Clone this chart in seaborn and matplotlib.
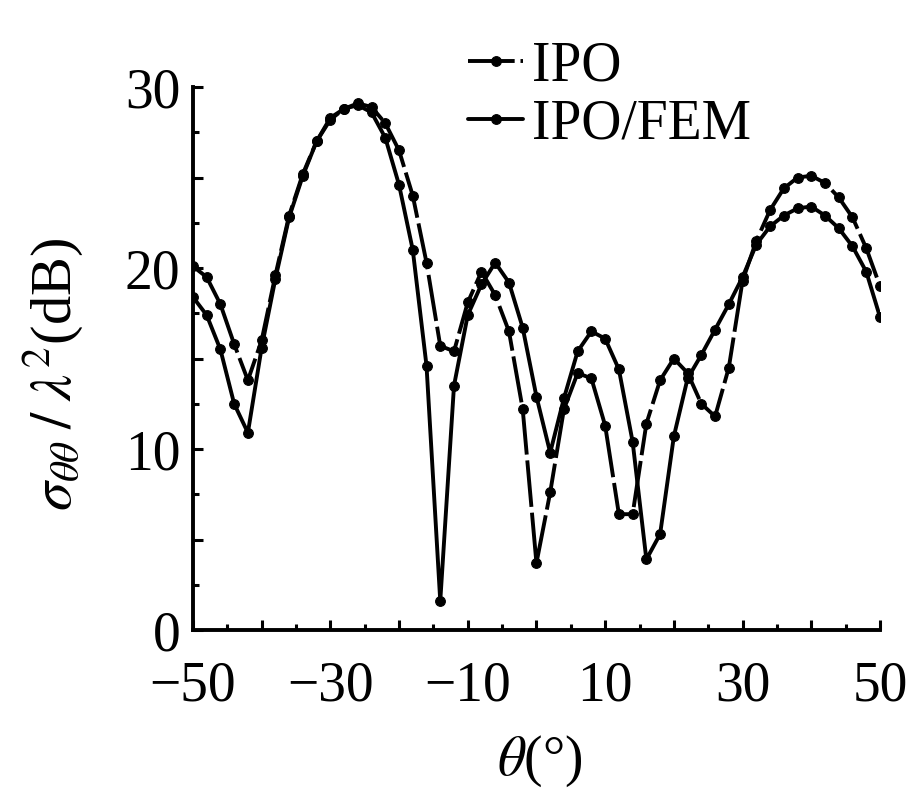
#!/usr/bin/env python3

import matplotlib
matplotlib.use("Agg")
import matplotlib.pyplot as plt
from matplotlib.ticker import MultipleLocator
import numpy as np
import pandas as pd
import seaborn as sns

# Angles (degrees), every 2 degrees from -50 to 50
theta = [-50, -48, -46, -44, -42, -40, -38, -36, -34, -32,
         -30, -28, -26, -24, -22, -20, -18, -16, -14, -12,
         -10, -8, -6, -4, -2, 0, 2, 4, 6, 8,
         10, 12, 14, 16, 18, 20, 22, 24, 26, 28,
         30, 32, 34, 36, 38, 40, 42, 44, 46, 48, 50]

# RCS (dB)
ipo = [20.1, 19.5, 18.0, 15.8, 13.8, 16.0, 19.6, 22.9, 25.2, 27.0,
       28.2, 28.8, 29.1, 28.9, 28.0, 26.5, 24.0, 20.3, 15.7, 15.4,
       18.1, 19.8, 18.5, 16.5, 12.2, 3.7, 7.6, 12.2, 14.2, 13.9,
       11.3, 6.4, 6.4, 11.4, 13.8, 15.0, 14.2, 12.5, 11.8, 14.5,
       19.3, 21.5, 23.2, 24.4, 25.0, 25.1, 24.7, 23.9, 22.8, 21.1, 19.0]
ipo_fem = [18.4, 17.4, 15.5, 12.5, 10.9, 15.6, 19.4, 22.8, 25.1, 27.0,
           28.3, 28.8, 29.0, 28.6, 27.2, 24.6, 21.0, 14.6, 1.6, 13.5,
           17.4, 19.1, 20.3, 19.2, 16.7, 12.9, 9.8, 12.8, 15.4, 16.5,
           16.1, 14.4, 10.4, 3.9, 5.3, 10.7, 13.9, 15.2, 16.6, 18.0,
           19.5, 21.3, 22.3, 22.9, 23.3, 23.4, 22.9, 22.2, 21.2, 19.8, 17.3]

methods = ["IPO", "IPO/FEM"]
x_ticklabels = [-50, -30, -10, 10, 30, 50]
y_ticklabels = [0, 10, 20, 30]

df = pd.DataFrame({
    "theta": theta * 2,
    "rcs": ipo + ipo_fem,
    "method": [methods[0]] * len(theta) + [methods[1]] * len(theta),
})

sns.set_theme(style="ticks")
plt.rcParams["font.family"] = ["Liberation Serif", "DejaVu Serif"]
plt.rcParams["mathtext.fontset"] = "stix"
for key in ("text.color", "axes.labelcolor", "xtick.color", "ytick.color",
            "axes.edgecolor"):
    plt.rcParams[key] = "black"

fig = plt.figure(figsize=(9.1, 7.88), dpi=100)
ax = fig.add_axes([0.212, 0.2005, 0.755, 0.689])

sns.lineplot(
    data=df, x="theta", y="rcs", hue="method", style="method",
    palette=["black", "black"],
    markers={"IPO": "o", "IPO/FEM": "o"},
    dashes={"IPO": (12, 1.5), "IPO/FEM": ""},
    linewidth=2.8, markersize=7,
    markeredgecolor="black", markeredgewidth=0.8,
    ax=ax,
)


def fmt(v):
    # proper minus sign like the printed figure
    return f"{v}".replace("-", "\u2212")


ax.set(xlim=(-50, 50), ylim=(0, 30))
ax.xaxis.set_minor_locator(MultipleLocator(5))
ax.yaxis.set_minor_locator(MultipleLocator(2.5))
ax.set_xticks(np.arange(-50, 51, 10))
ax.set_xticklabels([fmt(v) if v in x_ticklabels else "" for v in range(-50, 51, 10)])
ax.set_yticks(np.arange(0, 31, 5))
ax.set_yticklabels([fmt(v) if v in y_ticklabels else "" for v in range(0, 31, 5)])

ax.tick_params(axis="both", which="both", direction="in", width=2.2, labelsize=40)
ax.tick_params(axis="both", which="major", length=7)
ax.tick_params(axis="both", which="minor", length=4)
ax.tick_params(axis="x", which="major", pad=22)
ax.tick_params(axis="y", which="major", pad=9)

sns.despine(ax=ax)
for side in ("left", "bottom"):
    ax.spines[side].set_linewidth(2.8)

ax.set_xlabel(r"$\theta$(°)", fontsize=40)
ax.set_ylabel(r"$\sigma_{\theta\theta}\;/\;\lambda^{2}$(dB)", fontsize=42)
ax.xaxis.set_label_coords(0.505, -0.19)
ax.yaxis.set_label_coords(-0.155, 0.47)
ax.xaxis.label.set_va("top")

leg = ax.get_legend()
handles = leg.legend_handles
labels = [t.get_text() for t in leg.get_texts()]
ax.legend(
    handles, labels, loc="upper left", bbox_to_anchor=(0.40, 1.085),
    frameon=False, fontsize=40, handlelength=1.0, handletextpad=0.15,
    labelspacing=0.1, borderpad=0, borderaxespad=0,
)

fig.savefig("out.png", dpi=100)
